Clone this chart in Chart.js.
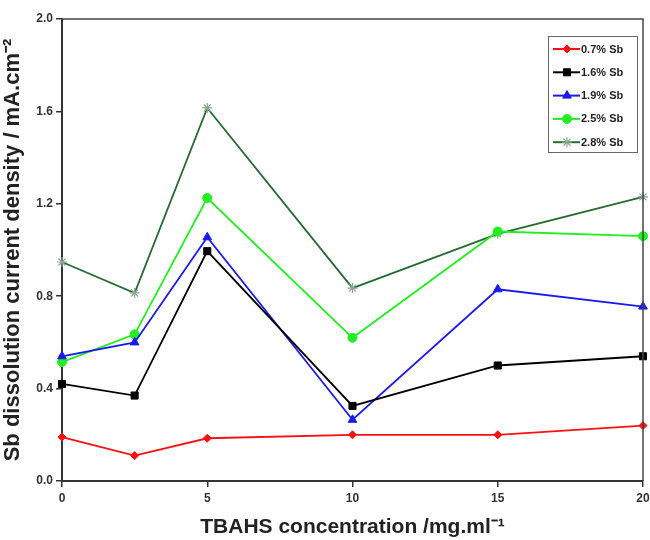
<!DOCTYPE html>
<html>
<head>
<meta charset="utf-8">
<script src="https://cdn.jsdelivr.net/npm/chart.js@4/dist/chart.umd.min.js"></script>
<style>
  html, body { margin: 0; padding: 0; background: #fff; }
  #wrap { width: 650px; height: 540px; }
</style>
</head>
<body>
<div id="wrap"><canvas id="chart" width="650" height="540"></canvas></div>
<script>
// TBAHS concentration (mg/ml) and Sb dissolution current density (mA/cm2)
const concentrations = [0, 2.5, 5, 10, 15, 20];
const sb07 = [0.19, 0.11, 0.185, 0.20, 0.20, 0.24];
const sb16 = [0.42, 0.37, 0.995, 0.325, 0.50, 0.54];
const sb19 = [0.54, 0.60, 1.055, 0.265, 0.83, 0.755];
const sb25 = [0.515, 0.635, 1.225, 0.62, 1.08, 1.06];
const sb28 = [0.948, 0.814, 1.615, 0.835, 1.07, 1.23];
const seriesNames = ['0.7% Sb', '1.6% Sb', '1.9% Sb', '2.5% Sb', '2.8% Sb'];
const xTicks = [0, 5, 10, 15, 20];
const yTicks = [0.0, 0.4, 0.8, 1.2, 1.6, 2.0];

const FONT = '"Liberation Sans", Arial, sans-serif';

function toPoints(values) {
    return concentrations.map((c, i) => ({ x: c, y: values[i] }));
}

function makeSet(label, values, color, style, radius, pointColor) {
    return {
        label: label,
        data: toPoints(values),
        borderColor: color,
        backgroundColor: pointColor || color,
        pointBorderColor: pointColor || color,
        borderWidth: 1.8,
        pointStyle: style,
        pointRadius: radius,
        pointBorderWidth: style === 'star' ? 1.2 : 1,
        tension: 0,
        clip: false,
    };
}

// Frame around the plot area
const framePlugin = {
    id: 'frame',
    afterDraw(chart) {
        const { ctx, chartArea: a } = chart;
        ctx.save();
        ctx.strokeStyle = '#444';
        ctx.lineWidth = 1.5;
        ctx.beginPath();
        ctx.moveTo(a.left, a.top);
        ctx.lineTo(a.right, a.top);
        ctx.lineTo(a.right, a.bottom);
        ctx.stroke();
        ctx.restore();
    }
};

// Boxed legend inside the plot, top right
const legendBox = {
    id: 'legendBox',
    afterDraw(chart) {
        const { ctx, chartArea: a } = chart;
        const right = a.right - 6, top = a.top + 17;
        const w = 89, h = 116;
        const left = right - w;
        ctx.save();
        ctx.fillStyle = '#fff';
        ctx.fillRect(left, top, w, h);
        ctx.strokeStyle = '#666';
        ctx.lineWidth = 1;
        ctx.strokeRect(left + 0.5, top + 0.5, w, h);
        ctx.font = 'bold 11px ' + FONT;
        ctx.textBaseline = 'middle';
        chart.data.datasets.forEach((ds, i) => {
            const y = top + 13 + i * 23.3;
            ctx.strokeStyle = ds.borderColor;
            ctx.lineWidth = 2;
            ctx.beginPath();
            ctx.moveTo(left + 5, y);
            ctx.lineTo(left + 32, y);
            ctx.stroke();
            ctx.fillStyle = ds.backgroundColor;
            ctx.strokeStyle = ds.pointBorderColor;
            ctx.lineWidth = ds.pointBorderWidth;
            Chart.helpers.drawPoint(ctx, { pointStyle: ds.pointStyle, radius: ds.pointRadius, borderWidth: ds.pointBorderWidth, rotation: 0 }, left + 19, y);
            ctx.fillStyle = '#222';
            ctx.fillText(ds.label, left + 33, y + 0.5);
        });
        ctx.restore();
    }
};

const ctx = document.getElementById('chart').getContext('2d');
const chart = new Chart(ctx, {
    type: 'line',
    data: {
        datasets: [
            makeSet(seriesNames[0], sb07, '#ff1010', 'rectRot', 4),
            makeSet(seriesNames[1], sb16, '#000000', 'rect', 5),
            makeSet(seriesNames[2], sb19, '#1a1aee', 'triangle', 5),
            makeSet(seriesNames[3], sb25, '#22ee22', 'circle', 4.5),
            makeSet(seriesNames[4], sb28, '#256b30', 'star', 5, '#8aa890'),
        ],
    },
    options: {
        responsive: false,
        animation: false,
        layout: { padding: { top: 19, right: 7, left: 0, bottom: 0 } },
        plugins: {
            legend: { display: false },
            tooltip: { enabled: false },
        },
        scales: {
            x: {
                type: 'linear',
                min: 0,
                max: 20,
                afterBuildTicks: (scale) => { scale.ticks = xTicks.map(v => ({ value: v })); },
                afterFit: (scale) => { scale.height = 59; scale.paddingRight = 0; scale.paddingLeft = 0; },
                grid: { drawOnChartArea: false, tickLength: 6, color: '#333', lineWidth: 1.5 },
                border: { color: '#333', width: 2 },
                ticks: {
                    color: '#333',
                    padding: 4,
                    maxRotation: 0,
                    font: { family: FONT, size: 12, weight: 'bold' },
                },
                title: {
                    display: true,
                    text: 'TBAHS concentration /mg.ml\u207B\u00B9',
                    color: '#222',
                    padding: { top: 4, bottom: 0 },
                    font: { family: FONT, size: 21, weight: 'bold' },
                },
            },
            y: {
                min: 0,
                max: 2,
                afterBuildTicks: (scale) => { scale.ticks = yTicks.map(v => ({ value: v })); },
                afterFit: (scale) => { scale.width = 62; },
                grid: { drawOnChartArea: false, tickLength: 6, color: '#333', lineWidth: 1.5 },
                border: { color: '#333', width: 2 },
                ticks: {
                    color: '#333',
                    padding: 3,
                    callback: (v) => v.toFixed(1),
                    font: { family: FONT, size: 12, weight: 'bold' },
                },
                title: {
                    display: true,
                    text: 'Sb dissolution current density / mA.cm\u207B\u00B2',
                    color: '#222',
                    padding: { top: 0, bottom: 2 },
                    font: { family: FONT, size: 22, weight: 'bold' },
                },
            },
        },
    },
    plugins: [framePlugin, legendBox],
});
</script>
</body>
</html>
